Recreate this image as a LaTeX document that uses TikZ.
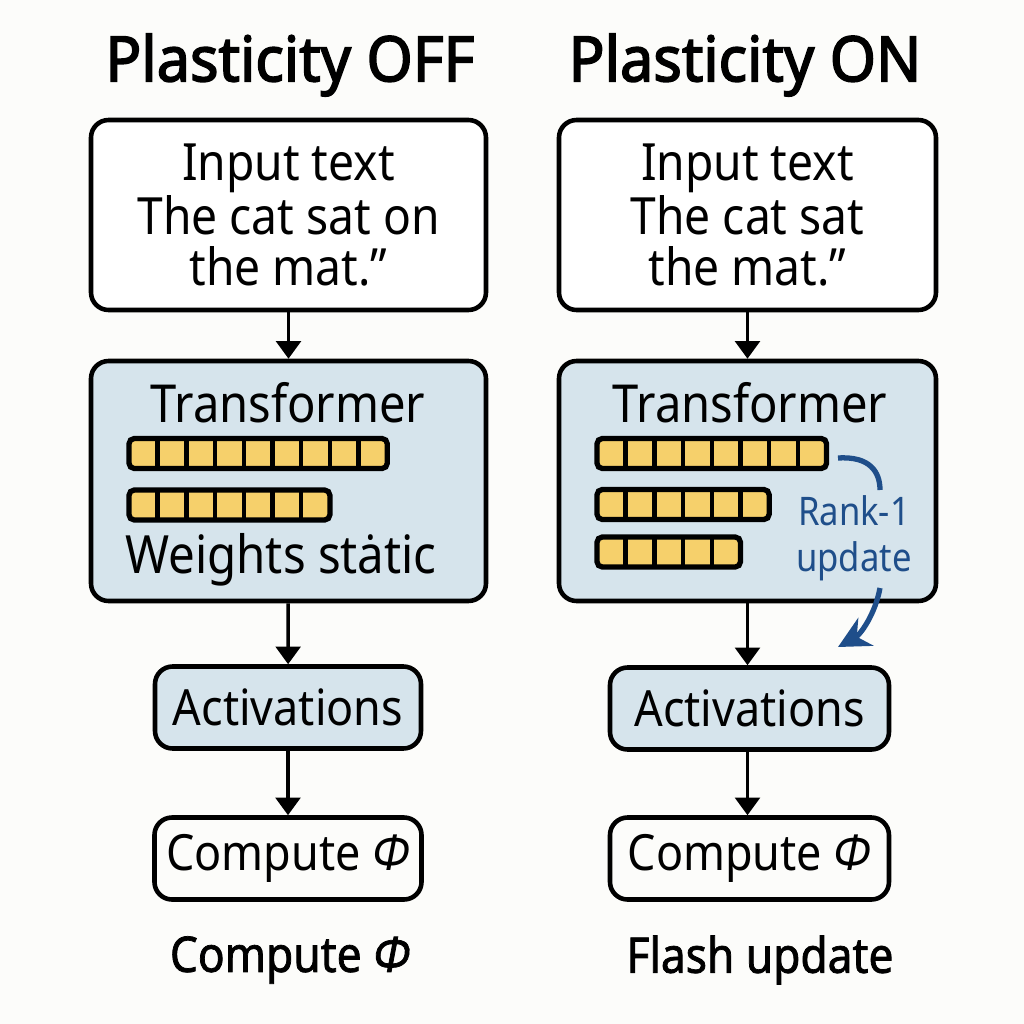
\documentclass[tikz,border=0pt]{standalone}
\usepackage{fontspec}
\setmainfont{Noto Sans}[FakeStretch=0.9]
\usetikzlibrary{positioning,arrows.meta}
\definecolor{tfill}{HTML}{D6E4EC}
\definecolor{wyel}{HTML}{F6D06B}
\definecolor{rblue}{HTML}{1F4E8A}
\definecolor{paper}{HTML}{FCFCFA}
\tikzset{
  box/.style={draw,line width=1.3pt,rounded corners=5pt,align=center},
  tbox/.style={box,fill=tfill,minimum width=3.95cm,minimum height=2.4cm},
  inbox/.style={box,fill=white,minimum width=3.95cm,minimum height=1.9cm,font=\fontsize{14.6}{14.5}\selectfont},
  smallbox/.style={box,minimum width=2.66cm,minimum height=0.82cm,font=\fontsize{14.2}{16}\selectfont},
  flow/.style={-{Triangle[length=5pt,width=7pt]},line width=1pt},
  heading/.style={font=\fontsize{17.8}{19}\selectfont\addfontfeature{FakeBold=2.5,FakeStretch=0.95}},
  caption/.style={font=\fontsize{14}{16}\selectfont\addfontfeature{FakeBold=1.5}}
}
\newcommand\wbar[3]{%
  \fill[wyel,rounded corners=1.5pt] (#1,#2) rectangle ++(#3*0.287,-0.3);
  \foreach \k in {2,...,#3}
    \draw[line width=1.3pt] (#1+\k*0.287-0.287,#2) -- ++(0,-0.3);
  \draw[line width=1.5pt,rounded corners=1.5pt] (#1,#2) rectangle ++(#3*0.287,-0.3);
}
\newcommand\phisym{\textit{Φ}}
\begin{document}
\begin{tikzpicture}
  \fill[paper] (0,0) rectangle (10.24,-10.24);
  \useasboundingbox (0,0) rectangle (10.24,-10.24);

  \node[heading] (toff) at (2.9,-0.65) {Plasticity OFF};
  \node[heading] (ton) at (7.45,-0.65) {Plasticity ON};

  \node[inbox] (linput) at (2.885,-2.15) {Input text\\The cat sat on\\the mat.”};
  \node[inbox,minimum width=3.77cm] (rinput) at (7.475,-2.15) {Input text\\The cat sat\\the mat.”};

  \node[tbox] (ltrans) at (2.885,-4.81) {};
  \node[tbox,minimum width=3.77cm] (rtrans) at (7.475,-4.81) {};
  \node[font=\fontsize{14.9}{17}\selectfont] (ltitle) at (2.88,-4.03) {Transformer};
  \node[font=\fontsize{14.9}{17}\selectfont] (rtitle) at (7.5,-4.03) {Transformer};
  \node[font=\fontsize{15}{17}\selectfont] (lstat) at (2.81,-5.6) {Weights stȧtic};

  \wbar{1.29}{-4.385}{9}
  \wbar{1.29}{-4.9}{7}
  \wbar{5.97}{-4.385}{8}
  \wbar{5.97}{-4.895}{6}
  \wbar{5.97}{-5.37}{5}

  \node[smallbox,fill=tfill] (lact) at (2.88,-7.075) {Activations};
  \node[smallbox,fill=tfill,minimum width=2.79cm] (ract) at (7.495,-7.085) {Activations};
  \node[smallbox] (lcomp) at (2.88,-8.585) {Compute \phisym};
  \node[smallbox,minimum width=2.79cm] (rcomp) at (7.495,-8.585) {Compute \phisym};

  \node[caption] (lcap) at (2.9,-9.6) {Compute \phisym};
  \node[caption] (rcap) at (7.6,-9.6) {Flash update};

  \draw[flow] (linput) -- (ltrans);
  \draw[flow] (ltrans) -- (lact);
  \draw[flow] (lact) -- (lcomp);
  \draw[flow] (rinput.south) -- (rtrans.north);
  \draw[flow] (rtrans.south) -- (rtrans.south |- ract.north);
  \draw[flow] (ract.south -| rtrans.south) -- (rcomp.north -| rtrans.south);

  \node[text=rblue,align=center,font=\fontsize{11.2}{13}\selectfont\addfontfeature{FakeStretch=0.88}] (rank) at (8.54,-5.38) {Rank-1\\update};
  \coordinate (arcstart) at (8.38,-4.58);
  \coordinate (arcmid) at (8.8,-4.9);
  \coordinate (arcout) at (8.8,-5.88);
  \coordinate (arcend) at (8.38,-6.47);
  \draw[rblue,line width=1.5pt] (arcstart) .. controls (8.7,-4.56) and (8.8,-4.72) .. (arcmid);
  \draw[rblue,line width=1.5pt,-{Stealth[length=9pt,width=9pt]}] (arcout) .. controls (8.75,-6.15) and (8.6,-6.35) .. (arcend);
\end{tikzpicture}
\end{document}
